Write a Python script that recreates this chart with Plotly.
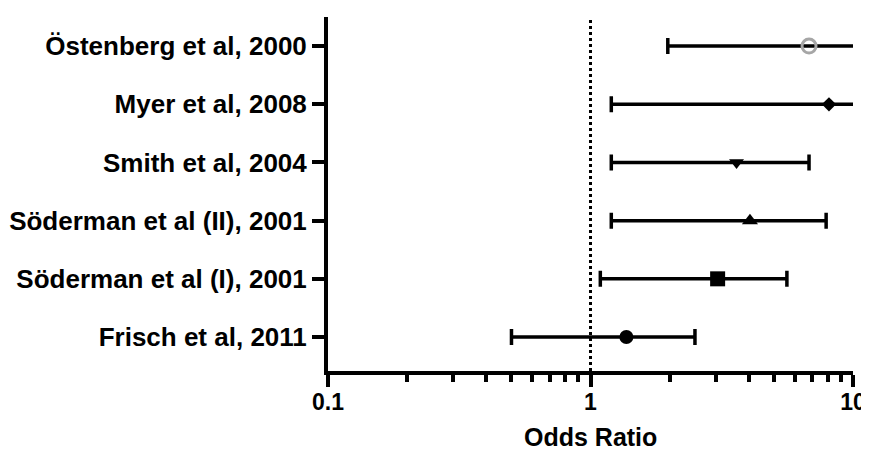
import plotly.graph_objects as go

# Data (bottom to top)
studies = ["Frisch et al, 2011", "Söderman et al (I), 2001", "Söderman et al (II), 2001",
           "Smith et al, 2004", "Myer et al, 2008", "Östenberg et al, 2000"]
odds_ratio = [1.37, 3.05, 4.05, 3.6, 8.1, 6.8]
ci_lower = [0.50, 1.09, 1.2, 1.2, 1.2, 1.97]
ci_upper = [2.5, 5.6, 7.9, 6.8, 14.0, 14.0]
symbols = ["circle", "square", "triangle-up", "triangle-down", "diamond", "circle-open"]
marker_colors = ["black", "black", "black", "black", "black", "#a6a6a6"]
marker_sizes = [14, 15, 14, 13, 11, 14]

major_ticks = [0.1, 1, 10]
major_labels = ["0.1", "1", "10"]
minor_ticks = [0.2, 0.3, 0.4, 0.5, 0.6, 0.7, 0.8, 0.9, 2, 3, 4, 5, 6, 7, 8, 9]
x_title = "Odds Ratio"

FONT = "Arial, Liberation Sans, sans-serif"

fig = go.Figure()
for i, name in enumerate(studies):
    fig.add_trace(go.Scatter(
        x=[odds_ratio[i]], y=[i + 1], mode="markers", name=name,
        marker=dict(symbol=symbols[i], size=marker_sizes[i], color=marker_colors[i],
                    line=dict(width=3 if symbols[i].endswith("open") else 0, color=marker_colors[i])),
        error_x=dict(type="data", symmetric=False,
                     array=[ci_upper[i] - odds_ratio[i]],
                     arrayminus=[odds_ratio[i] - ci_lower[i]],
                     color="black", thickness=3.5, width=8),
        showlegend=False,
    ))

fig.add_shape(type="line", xref="x", yref="paper", x0=1, x1=1, y0=0, y1=1,
              line=dict(color="black", width=3, dash="dot"), layer="below")

fig.add_annotation(text=x_title, xref="paper", yref="paper", x=0.5, y=0,
                   yshift=-81, yanchor="bottom", borderpad=0, showarrow=False,
                   font=dict(size=25, weight="bold", family=FONT, color="black"))

# page body has an 8px margin, so the figure is placed accordingly
fig.update_layout(
    width=869, height=453,
    margin=dict(l=320, r=24, t=9, b=90),
    plot_bgcolor="white", paper_bgcolor="white",
    font=dict(family=FONT, color="black"),
    xaxis=dict(
        type="log", range=[-1, 1], automargin=False,
        tickmode="array", tickvals=major_ticks, ticktext=major_labels,
        ticks="outside", ticklen=12, tickwidth=4, tickcolor="black",
        ticklabelstandoff=-5,
        showline=True, linewidth=4, linecolor="black",
        showgrid=False, zeroline=False,
        tickfont=dict(size=23, weight="bold", family=FONT),
        minor=dict(tickmode="array", tickvals=minor_ticks, ticks="outside",
                   ticklen=7, tickwidth=4, tickcolor="black", showgrid=False),
    ),
    yaxis=dict(
        range=[0.416, 6.5], automargin=False,
        tickmode="array", tickvals=list(range(1, len(studies) + 1)), ticktext=studies,
        ticks="outside", ticklen=12, tickwidth=4, tickcolor="black",
        showline=True, linewidth=4, linecolor="black",
        showgrid=False, zeroline=False,
        tickfont=dict(size=26, weight="bold", family=FONT),
    ),
)

fig.write_html("out.html")
